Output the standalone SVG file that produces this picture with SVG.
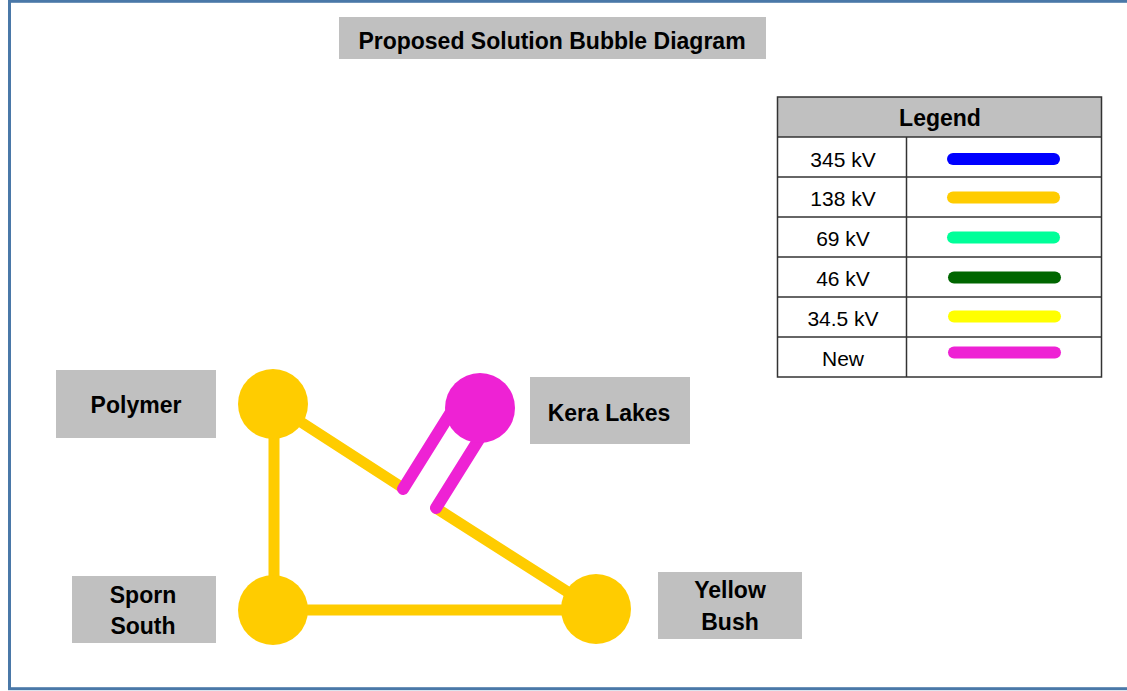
<svg xmlns="http://www.w3.org/2000/svg" width="1127" height="691" viewBox="0 0 1127 691">
<style>
.lbl{fill:#c0c0c0}
.nt{font-family:"Liberation Sans",Arial,sans-serif;font-weight:bold;font-size:23px;fill:#000;text-anchor:middle}
.lt{font-family:"Liberation Sans",Arial,sans-serif;font-size:21px;fill:#000;text-anchor:middle}
.y{stroke:#ffcc00;stroke-width:11;fill:none}
.m{stroke:#ee22d4;stroke-width:12;stroke-linecap:round;fill:none}
.leg{stroke-width:12;stroke-linecap:round}
.grid{stroke:#333;stroke-width:1.5;fill:none}
</style>
<rect x="0" y="0" width="1127" height="691" fill="#fff"/>
<rect x="9.5" y="1.3" width="1130" height="687.4" fill="none" stroke="#4a78a8" stroke-width="3"/>
<g id="title">
<rect class="lbl" x="339" y="17" width="427" height="42"/>
<text class="nt" x="552" y="49">Proposed Solution Bubble Diagram</text>
</g>
<g id="connectors">
<line class="y" x1="274" y1="404" x2="274" y2="610"/>
<line class="y" x1="274" y1="610" x2="596" y2="610"/>
<line class="y" x1="273" y1="404" x2="403" y2="488" stroke-linecap="round"/>
<line class="y" x1="436" y1="508" x2="596" y2="610" stroke-linecap="round"/>
<line class="m" x1="403" y1="489" x2="458" y2="401"/>
<line class="m" x1="436" y1="508" x2="486" y2="428"/>
</g>
<g id="polymer">
<circle cx="273" cy="404" r="35" fill="#ffcc00"/>
<rect class="lbl" x="56" y="370" width="160" height="68"/>
<text class="nt" x="136" y="413">Polymer</text>
</g>
<g id="kera-lakes">
<circle cx="480" cy="408" r="35" fill="#ee22d4"/>
<rect class="lbl" x="530" y="377" width="160" height="67"/>
<text class="nt" x="609" y="421">Kera Lakes</text>
</g>
<g id="sporn-south">
<circle cx="273" cy="610" r="35" fill="#ffcc00"/>
<rect class="lbl" x="72" y="576" width="144" height="67"/>
<text class="nt" x="143" y="603">Sporn</text>
<text class="nt" x="143" y="634">South</text>
</g>
<g id="yellow-bush">
<circle cx="596" cy="609" r="35" fill="#ffcc00"/>
<rect class="lbl" x="658" y="572" width="144" height="67"/>
<text class="nt" x="730" y="598">Yellow</text>
<text class="nt" x="730" y="630">Bush</text>
</g>
<g id="legend">
<rect x="777.5" y="97" width="324" height="40" fill="#c0c0c0"/>
<rect class="grid" x="777.5" y="97" width="324" height="280"/>
<line class="grid" x1="777.5" y1="137" x2="1101.5" y2="137"/>
<line class="grid" x1="777.5" y1="177" x2="1101.5" y2="177"/>
<line class="grid" x1="777.5" y1="217" x2="1101.5" y2="217"/>
<line class="grid" x1="777.5" y1="257" x2="1101.5" y2="257"/>
<line class="grid" x1="777.5" y1="297" x2="1101.5" y2="297"/>
<line class="grid" x1="777.5" y1="337" x2="1101.5" y2="337"/>
<line class="grid" x1="906.5" y1="137" x2="906.5" y2="377"/>
<text class="nt" x="940" y="126">Legend</text>
<text class="lt" x="843" y="167">345 kV</text>
<text class="lt" x="843" y="206">138 kV</text>
<text class="lt" x="843" y="246">69 kV</text>
<text class="lt" x="843" y="286">46 kV</text>
<text class="lt" x="843" y="326">34.5 kV</text>
<text class="lt" x="843" y="366">New</text>
<line class="leg" stroke="#0000ff" x1="953" y1="159" x2="1054" y2="159"/>
<line class="leg" stroke="#ffcc00" x1="953" y1="197.5" x2="1054" y2="197.5"/>
<line class="leg" stroke="#00ff99" x1="953" y1="237.5" x2="1054" y2="237.5"/>
<line class="leg" stroke="#006600" x1="954" y1="277.5" x2="1055" y2="277.5"/>
<line class="leg" stroke="#ffff00" x1="954" y1="316.5" x2="1055" y2="316.5"/>
<line class="leg" stroke="#ee22d4" x1="954" y1="352.5" x2="1055" y2="352.5"/>
</g>
</svg>
